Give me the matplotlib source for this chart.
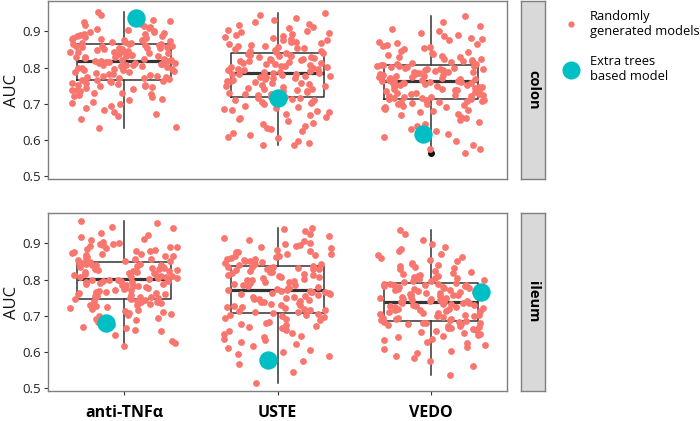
import numpy as np
import matplotlib
matplotlib.use("Agg")
import matplotlib.pyplot as plt
from matplotlib.lines import Line2D

drugs = ["anti-TNFα", "USTE", "VEDO"]
tissues = ["colon", "ileum"]

colon_anti = [0.633, 0.635, 0.659, 0.667, 0.671, 0.676, 0.684, 0.689, 0.693, 0.699, 0.701, 0.706, 0.711, 0.714, 0.718, 0.721, 0.723, 0.727, 0.729, 0.731, 0.734, 0.737, 0.739, 0.741, 0.743, 0.745, 0.748, 0.749, 0.751, 0.753, 0.755, 0.757, 0.758, 0.760, 0.762, 0.763,
              0.765, 0.766, 0.768, 0.770, 0.771, 0.773, 0.775, 0.776, 0.778, 0.780, 0.782, 0.783, 0.785, 0.787, 0.788, 0.790, 0.792, 0.794, 0.795, 0.797, 0.798, 0.800, 0.801, 0.803, 0.804, 0.806, 0.807, 0.808, 0.810, 0.811, 0.812, 0.813, 0.814, 0.815, 0.816, 0.817,
              0.818, 0.819, 0.820, 0.822, 0.823, 0.825, 0.826, 0.828, 0.829, 0.830, 0.832, 0.833, 0.835, 0.836, 0.837, 0.839, 0.840, 0.842, 0.843, 0.844, 0.846, 0.847, 0.849, 0.850, 0.851, 0.853, 0.854, 0.855, 0.857, 0.858, 0.859, 0.860, 0.861, 0.862, 0.863, 0.864,
              0.865, 0.866, 0.868, 0.869, 0.871, 0.872, 0.874, 0.875, 0.877, 0.878, 0.880, 0.882, 0.883, 0.885, 0.887, 0.888, 0.890, 0.892, 0.894, 0.895, 0.897, 0.899, 0.901, 0.903, 0.906, 0.908, 0.911, 0.915, 0.918, 0.921, 0.922, 0.925, 0.928, 0.932, 0.945, 0.954]

colon_uste = [0.585, 0.587, 0.591, 0.598, 0.604, 0.609, 0.613, 0.618, 0.624, 0.629, 0.633, 0.638, 0.643, 0.648, 0.652, 0.657, 0.661, 0.664, 0.668, 0.672, 0.676, 0.679, 0.683, 0.686, 0.689, 0.692, 0.695, 0.698, 0.701, 0.704, 0.706, 0.709, 0.711, 0.713, 0.715, 0.717,
              0.718, 0.720, 0.722, 0.724, 0.726, 0.728, 0.730, 0.732, 0.734, 0.736, 0.738, 0.740, 0.742, 0.744, 0.746, 0.748, 0.750, 0.752, 0.754, 0.756, 0.758, 0.760, 0.762, 0.764, 0.766, 0.768, 0.770, 0.772, 0.774, 0.775, 0.777, 0.778, 0.780, 0.781, 0.782, 0.783,
              0.785, 0.786, 0.788, 0.789, 0.791, 0.793, 0.794, 0.796, 0.797, 0.799, 0.801, 0.802, 0.804, 0.805, 0.807, 0.809, 0.810, 0.812, 0.813, 0.815, 0.817, 0.818, 0.820, 0.821, 0.823, 0.825, 0.826, 0.828, 0.830, 0.831, 0.833, 0.835, 0.836, 0.838, 0.840, 0.841,
              0.843, 0.845, 0.847, 0.849, 0.851, 0.853, 0.855, 0.857, 0.859, 0.861, 0.863, 0.865, 0.868, 0.870, 0.872, 0.875, 0.877, 0.880, 0.882, 0.885, 0.888, 0.890, 0.893, 0.896, 0.899, 0.902, 0.905, 0.909, 0.913, 0.917, 0.921, 0.926, 0.931, 0.937, 0.944, 0.950]

colon_vedo = [0.565, 0.574, 0.576, 0.586, 0.598, 0.607, 0.616, 0.624, 0.631, 0.638, 0.644, 0.650, 0.655, 0.660, 0.664, 0.668, 0.672, 0.676, 0.679, 0.682, 0.685, 0.688, 0.690, 0.692, 0.694, 0.696, 0.698, 0.700, 0.702, 0.704, 0.705, 0.707, 0.708, 0.710, 0.711, 0.712,
              0.713, 0.715, 0.716, 0.718, 0.719, 0.721, 0.722, 0.724, 0.725, 0.727, 0.728, 0.730, 0.731, 0.733, 0.734, 0.736, 0.737, 0.739, 0.740, 0.742, 0.743, 0.745, 0.746, 0.748, 0.749, 0.751, 0.752, 0.753, 0.755, 0.756, 0.757, 0.758, 0.759, 0.760, 0.761, 0.762,
              0.763, 0.764, 0.765, 0.767, 0.768, 0.769, 0.771, 0.772, 0.773, 0.775, 0.776, 0.777, 0.779, 0.780, 0.781, 0.783, 0.784, 0.785, 0.787, 0.788, 0.789, 0.791, 0.792, 0.793, 0.795, 0.796, 0.797, 0.799, 0.800, 0.801, 0.802, 0.803, 0.804, 0.805, 0.806, 0.807,
              0.809, 0.811, 0.813, 0.815, 0.817, 0.819, 0.821, 0.823, 0.825, 0.828, 0.830, 0.833, 0.835, 0.838, 0.841, 0.844, 0.847, 0.850, 0.853, 0.856, 0.859, 0.862, 0.865, 0.868, 0.871, 0.875, 0.879, 0.883, 0.887, 0.891, 0.896, 0.901, 0.907, 0.914, 0.925, 0.943]

ileum_anti = [0.616, 0.626, 0.630, 0.648, 0.657, 0.661, 0.666, 0.670, 0.674, 0.678, 0.682, 0.686, 0.689, 0.692, 0.695, 0.698, 0.701, 0.704, 0.707, 0.710, 0.713, 0.716, 0.719, 0.722, 0.724, 0.727, 0.729, 0.731, 0.733, 0.735, 0.737, 0.739, 0.741, 0.742, 0.744, 0.745,
              0.746, 0.748, 0.749, 0.751, 0.752, 0.754, 0.755, 0.757, 0.759, 0.760, 0.762, 0.764, 0.765, 0.767, 0.769, 0.770, 0.772, 0.774, 0.776, 0.777, 0.779, 0.781, 0.783, 0.784, 0.786, 0.788, 0.789, 0.791, 0.792, 0.794, 0.795, 0.796, 0.797, 0.798, 0.799, 0.800,
              0.802, 0.803, 0.804, 0.806, 0.807, 0.808, 0.810, 0.811, 0.812, 0.814, 0.815, 0.816, 0.818, 0.819, 0.820, 0.822, 0.823, 0.824, 0.826, 0.827, 0.829, 0.830, 0.831, 0.833, 0.834, 0.836, 0.837, 0.839, 0.840, 0.841, 0.843, 0.844, 0.845, 0.846, 0.847, 0.848,
              0.850, 0.852, 0.854, 0.856, 0.858, 0.860, 0.862, 0.864, 0.866, 0.868, 0.870, 0.872, 0.874, 0.876, 0.878, 0.880, 0.883, 0.885, 0.887, 0.889, 0.891, 0.893, 0.895, 0.897, 0.899, 0.901, 0.904, 0.908, 0.913, 0.918, 0.924, 0.930, 0.942, 0.945, 0.955, 0.961]

ileum_uste = [0.513, 0.545, 0.567, 0.575, 0.582, 0.588, 0.594, 0.600, 0.606, 0.612, 0.617, 0.622, 0.627, 0.632, 0.637, 0.641, 0.645, 0.649, 0.653, 0.657, 0.661, 0.665, 0.669, 0.672, 0.675, 0.678, 0.681, 0.684, 0.687, 0.690, 0.693, 0.696, 0.699, 0.701, 0.703, 0.705,
              0.707, 0.709, 0.711, 0.713, 0.715, 0.717, 0.719, 0.721, 0.723, 0.725, 0.727, 0.729, 0.731, 0.733, 0.735, 0.737, 0.739, 0.741, 0.743, 0.745, 0.747, 0.749, 0.751, 0.753, 0.755, 0.757, 0.759, 0.761, 0.762, 0.764, 0.765, 0.766, 0.767, 0.768, 0.769, 0.770,
              0.772, 0.774, 0.776, 0.778, 0.780, 0.782, 0.784, 0.786, 0.788, 0.790, 0.792, 0.794, 0.796, 0.798, 0.800, 0.802, 0.804, 0.806, 0.808, 0.810, 0.812, 0.814, 0.816, 0.818, 0.820, 0.822, 0.824, 0.826, 0.828, 0.829, 0.830, 0.831, 0.832, 0.834, 0.835, 0.836,
              0.838, 0.840, 0.842, 0.844, 0.846, 0.848, 0.850, 0.852, 0.854, 0.856, 0.858, 0.860, 0.862, 0.864, 0.866, 0.868, 0.870, 0.872, 0.875, 0.877, 0.880, 0.883, 0.886, 0.889, 0.892, 0.895, 0.898, 0.902, 0.906, 0.910, 0.915, 0.920, 0.926, 0.933, 0.940, 0.943]

ileum_vedo = [0.535, 0.560, 0.575, 0.582, 0.590, 0.597, 0.603, 0.609, 0.614, 0.619, 0.624, 0.628, 0.632, 0.636, 0.640, 0.643, 0.646, 0.649, 0.652, 0.655, 0.658, 0.661, 0.663, 0.665, 0.667, 0.669, 0.671, 0.673, 0.675, 0.676, 0.678, 0.679, 0.680, 0.681, 0.682, 0.683,
              0.685, 0.687, 0.688, 0.690, 0.692, 0.693, 0.695, 0.697, 0.698, 0.700, 0.702, 0.703, 0.705, 0.707, 0.708, 0.710, 0.712, 0.713, 0.715, 0.717, 0.718, 0.720, 0.722, 0.723, 0.725, 0.727, 0.728, 0.730, 0.731, 0.732, 0.733, 0.734, 0.735, 0.736, 0.737, 0.738,
              0.740, 0.741, 0.743, 0.744, 0.746, 0.747, 0.749, 0.750, 0.752, 0.753, 0.755, 0.756, 0.758, 0.759, 0.761, 0.762, 0.764, 0.765, 0.767, 0.768, 0.770, 0.771, 0.773, 0.774, 0.776, 0.777, 0.779, 0.780, 0.782, 0.783, 0.784, 0.785, 0.786, 0.787, 0.788, 0.789,
              0.791, 0.793, 0.795, 0.797, 0.799, 0.801, 0.803, 0.805, 0.807, 0.809, 0.811, 0.813, 0.816, 0.819, 0.822, 0.825, 0.828, 0.831, 0.834, 0.837, 0.840, 0.843, 0.847, 0.851, 0.855, 0.859, 0.863, 0.867, 0.872, 0.878, 0.884, 0.891, 0.899, 0.910, 0.925, 0.938]

extra_colon = [0.936, 0.715, 0.616]
extra_ileum = [0.680, 0.579, 0.765]
extra_jitter_colon = [0.076, 0.0, -0.05]
extra_jitter_ileum = [-0.12, -0.065, 0.326]

random_data = {"colon": [colon_anti, colon_uste, colon_vedo],
               "ileum": [ileum_anti, ileum_uste, ileum_vedo]}
extra_data = {"colon": (extra_colon, extra_jitter_colon),
              "ileum": (extra_ileum, extra_jitter_ileum)}

RED = "#F8766D"
CYAN = "#00BFC4"
DARK = "#333333"
BORDER = "#7F7F7F"

plt.rcParams['font.family'] = ['Open Sans', 'DejaVu Sans']

W, H = 700, 421
fig = plt.figure(figsize=(W / 100, H / 100), dpi=100)

panel_px = {"colon": (1, 179), "ileum": (213, 391)}
ax_left, ax_right = 48, 507
strip_left, strip_right = 521, 545


def jitter(n, seed):
    # deterministic scatter of horizontal positions (layout only)
    k = np.arange(n) + seed * 1000.0
    h = np.sin(k * 12.9898 + seed * 78.233) * 43758.5453
    return ((h - np.floor(h)) - 0.5) * 0.70


positions = np.arange(1, len(drugs) + 1)
for ti, tissue in enumerate(tissues):
    top, bot = panel_px[tissue]
    ax = fig.add_axes([ax_left / W, 1 - bot / H, (ax_right - ax_left) / W, (bot - top) / H])
    data = random_data[tissue]
    ax.boxplot(data, positions=positions, widths=0.61, showcaps=False,
               boxprops=dict(color=DARK, lw=1.1),
               whiskerprops=dict(color=DARK, lw=1.1),
               medianprops=dict(color=DARK, lw=2.3),
               flierprops=dict(marker='o', markerfacecolor='#111111', markeredgecolor='#111111', markersize=4),
               zorder=1, manage_ticks=False)
    for gi, vals in enumerate(data):
        off = jitter(len(vals), 1 + gi + 3 * ti)
        ax.scatter(positions[gi] + off, vals, s=24, color=RED, linewidths=0, zorder=2)
    ev, ej = extra_data[tissue]
    ax.scatter(positions + np.array(ej), ev, s=175, color=CYAN, linewidths=0, zorder=3)

    ax.set_xlim(0.505, 3.495)
    ax.set_ylim(0.492, 0.984)
    ax.set_yticks([0.5, 0.6, 0.7, 0.8, 0.9])
    ax.set_yticklabels(["0.5", "0.6", "0.7", "0.8", "0.9"])
    ax.tick_params(axis='y', length=3, width=0.8, color=DARK, labelsize=9.5, labelcolor='#222222', pad=2)
    ax.set_ylabel("AUC", fontsize=12, labelpad=2, color='#111111')
    for sp in ax.spines.values():
        sp.set_color(BORDER)
        sp.set_linewidth(1.0)
    if tissue == "ileum":
        ax.set_xticks(positions)
        ax.set_xticklabels(drugs, fontsize=11.5, fontweight='bold', color='black')
        ax.tick_params(axis='x', length=3, width=0.8, color=DARK, pad=7)
    else:
        ax.set_xticks([])

    sax = fig.add_axes([strip_left / W, 1 - bot / H, (strip_right - strip_left) / W, (bot - top) / H])
    sax.set_facecolor("#D9D9D9")
    sax.set_xticks([])
    sax.set_yticks([])
    for sp in sax.spines.values():
        sp.set_color(BORDER)
        sp.set_linewidth(1.0)
    sax.text(0.5, 0.5, tissue, rotation=270, ha='center', va='center', fontsize=10.5,
             fontweight='bold', color='black', transform=sax.transAxes)

handles = [Line2D([], [], marker='o', ls='', color=RED, markersize=4.5, markeredgewidth=0,
                  label="Randomly\ngenerated models"),
           Line2D([], [], marker='o', ls='', color=CYAN, markersize=13, markeredgewidth=0,
                  label="Extra trees\nbased model")]
fig.legend(handles=handles, loc='upper left', bbox_to_anchor=(558 / W, 1 - 10 / H), frameon=False,
           fontsize=9.3, handletextpad=0.45, labelspacing=1.35, borderaxespad=0, borderpad=0,
           handlelength=2.0)

fig.savefig("out.png", dpi=100)
